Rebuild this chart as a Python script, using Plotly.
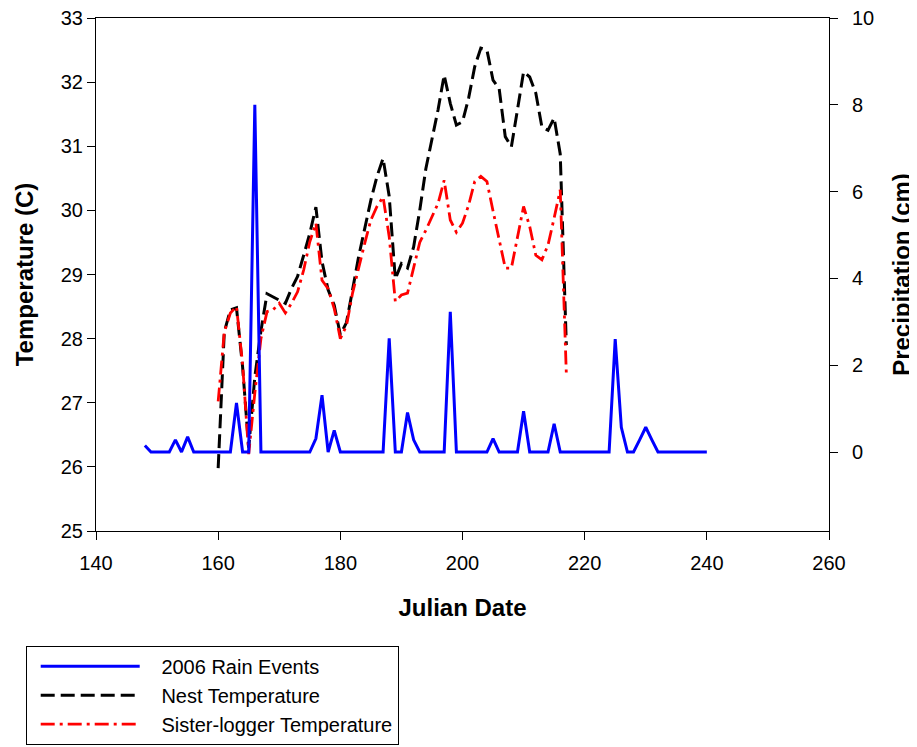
import plotly.graph_objects as go

# ---------------- data ----------------
rain_days = list(range(148, 241))
rain_cm = [
    0.15, 0, 0, 0, 0, 0.28, 0, 0.35, 0, 0,      # 148-157
    0, 0, 0, 0, 0, 1.13, 0, 0, 8.0, 0,          # 158-167
    0, 0, 0, 0, 0, 0, 0, 0, 0.31, 1.31,         # 168-177
    0, 0.5, 0, 0, 0, 0, 0, 0, 0, 0,             # 178-187
    2.62, 0, 0, 0.91, 0.28, 0, 0, 0, 0, 0,      # 188-197
    3.23, 0, 0, 0, 0, 0, 0, 0.31, 0, 0,         # 198-207
    0, 0, 0.94, 0, 0, 0, 0, 0.65, 0, 0,         # 208-217
    0, 0, 0, 0, 0, 0, 0, 2.6, 0.57, 0,          # 218-227
    0, 0.28, 0.57, 0.28, 0, 0, 0, 0, 0, 0,      # 228-237
    0, 0, 0,                                    # 238-240
]

temp_days = list(range(160, 218))
nest_temp = [
    25.98, 28.10, 28.45, 28.48, 27.56, 26.30, 27.40, 28.12, 28.70, 28.65,   # 160-169
    28.59, 28.55, 28.78, 28.97, 29.30, 29.64, 30.05, 29.20, 28.76, 28.52,   # 170-179
    28.06, 28.25, 28.76, 29.28, 29.72, 30.16, 30.53, 30.81, 30.22, 28.93,   # 180-189
    29.17, 29.10, 29.43, 30.00, 30.65, 31.12, 31.57, 32.11, 31.67, 31.33,   # 190-199
    31.38, 31.75, 32.24, 32.53, 32.50, 32.03, 31.90, 31.15, 30.99, 31.57,   # 200-209
    32.16, 32.08, 31.83, 31.30, 31.25, 31.44, 30.88, 27.90,                 # 210-217
]
sister_temp = [
    27.02, 28.10, 28.40, 28.50, 27.60, 26.20, 27.15, 28.00, 28.42, 28.45,   # 160-169
    28.55, 28.40, 28.55, 28.73, 29.07, 29.51, 29.80, 28.91, 28.78, 28.47,   # 170-179
    28.00, 28.20, 28.71, 29.12, 29.49, 29.85, 30.06, 30.21, 29.59, 28.58,   # 180-189
    28.68, 28.71, 29.10, 29.50, 29.69, 29.90, 30.11, 30.47, 29.85, 29.66,   # 190-199
    29.80, 30.08, 30.45, 30.53, 30.45, 29.99, 29.56, 29.10, 29.10, 29.59,   # 200-209
    30.06, 29.75, 29.30, 29.23, 29.46, 29.88, 30.32, 27.45,                 # 210-217
]

series_names = ["2006 Rain Events", "Nest Temperature", "Sister-logger Temperature"]
x_ticks = [140, 160, 180, 200, 220, 240, 260]
temp_ticks = [25, 26, 27, 28, 29, 30, 31, 32, 33]
rain_ticks = [0, 2, 4, 6, 8, 10]

FONT = "Liberation Sans, Arial, sans-serif"
PAD = "\u00a0\u00a0\u00a0"  # extra gap between legend sample and label

fig = go.Figure()
fig.add_trace(go.Scatter(
    x=rain_days, y=rain_cm, name=PAD + series_names[0], yaxis="y2",
    mode="lines", line=dict(color="#0000FF", width=3),
))
fig.add_trace(go.Scatter(
    x=temp_days, y=nest_temp, name=PAD + series_names[1],
    mode="lines", line=dict(color="#000000", width=3, dash="14px,6px"),
))
fig.add_trace(go.Scatter(
    x=temp_days, y=sister_temp, name=PAD + series_names[2],
    mode="lines", line=dict(color="#FF0000", width=2.8, dash="14px,5px,3px,5px"),
))

axis_common = dict(
    showline=True, linecolor="black", linewidth=1,
    ticks="outside", ticklen=8, tickcolor="black", tickwidth=1,
    showgrid=False, zeroline=False, ticklabeloverflow="allow",
    tickfont=dict(family=FONT, size=20, color="black"),
)

fig.update_layout(
    width=917, height=747,
    margin=dict(l=88, r=96, t=10, b=224, autoexpand=False),
    paper_bgcolor="white", plot_bgcolor="white",
    font=dict(family=FONT, size=20, color="black"),
    xaxis=dict(
        range=[140, 260], tickvals=x_ticks, mirror=True, ticklabelstandoff=6,
        title=dict(text="<b>Julian Date</b>", font=dict(family=FONT, size=24), standoff=26),
        **axis_common,
    ),
    yaxis=dict(
        range=[25, 33], tickvals=temp_ticks,
        title=dict(text="<b>Temperature (C)</b>", font=dict(family=FONT, size=24), standoff=20),
        **axis_common,
    ),
    yaxis2=dict(
        range=[-1.82, 10], tickvals=rain_ticks, overlaying="y", side="right",
        ticklabelstandoff=10,
        title=dict(text="<b>Precipitation (cm)</b>", font=dict(family=FONT, size=24), standoff=19),
        **axis_common,
    ),
    showlegend=True,
    legend=dict(
        x=-0.0959, y=-0.2236, xanchor="left", yanchor="top",
        bgcolor="white", bordercolor="black", borderwidth=1,
        font=dict(family=FONT, size=20, color="black"),
        itemwidth=99, indentation=9, traceorder="normal",
    ),
)

fig.write_html("out.html")
